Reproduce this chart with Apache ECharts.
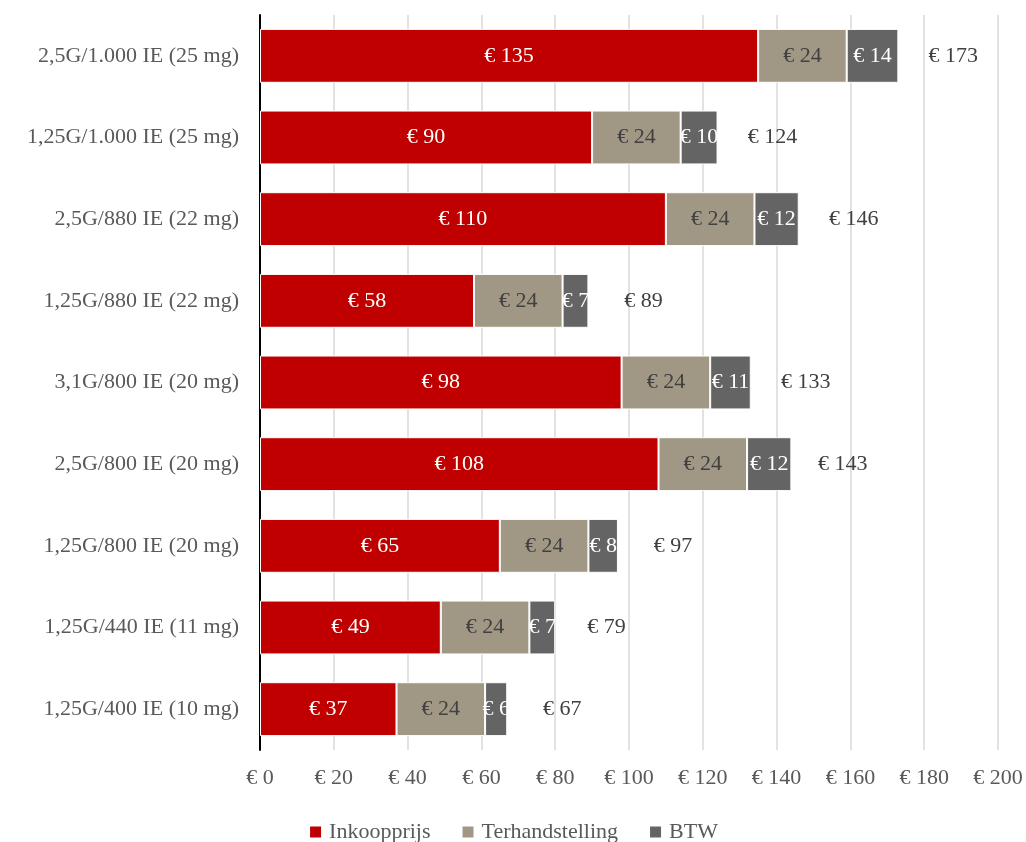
<!DOCTYPE html>
<html>
<head>
<meta charset="utf-8">
<script src="https://cdn.jsdelivr.net/npm/echarts@6/dist/echarts.min.js"></script>
<style>html,body{margin:0;padding:0;background:#fff;}#c{width:1026px;height:842px;}</style>
</head>
<body>
<div id="c"></div>
<script>
const categories = [
  "2,5G/1.000 IE (25 mg)",
  "1,25G/1.000 IE (25 mg)",
  "2,5G/880 IE (22 mg)",
  "1,25G/880 IE (22 mg)",
  "3,1G/800 IE (20 mg)",
  "2,5G/800 IE (20 mg)",
  "1,25G/800 IE (20 mg)",
  "1,25G/440 IE (11 mg)",
  "1,25G/400 IE (10 mg)"
];
const inkoopprijs = [135, 90, 110, 58, 98, 108, 65, 49, 37];
const terhandstelling = [24, 24, 24, 24, 24, 24, 24, 24, 24];
const btw = [14, 10, 12, 7, 11, 12, 8, 7, 6];
const totals = [173, 124, 146, 89, 133, 143, 97, 79, 67];

const FONT = "'Liberation Serif', 'DejaVu Serif', serif";
const FS = 22;
const chart = echarts.init(document.getElementById('c'), null, {renderer: 'canvas'});
const rev = a => a.slice().reverse();
const euro = p => '€ ' + p.value;
const border = {borderColor: '#ffffff', borderWidth: 1};

chart.setOption({
  animation: false,
  textStyle: {fontFamily: FONT},
  grid: {left: 260, right: 28, top: 15, bottom: 92, containLabel: false},
  xAxis: {
    type: 'value', min: 0, max: 200, interval: 20,
    axisLine: {show: false}, axisTick: {show: false},
    splitLine: {show: true, lineStyle: {color: '#d9d9d9', width: 1.5}},
    axisLabel: {color: '#595959', fontSize: FS, fontFamily: FONT, margin: 17, formatter: v => '€ ' + v}
  },
  yAxis: {
    type: 'category', data: rev(categories),
    axisLine: {show: true, lineStyle: {color: '#000000', width: 2}},
    axisTick: {show: false},
    axisLabel: {color: '#595959', fontSize: FS, fontFamily: FONT, margin: 21}
  },
  legend: {
    data: ['Inkoopprijs', 'Terhandstelling', 'BTW'],
    top: 816, left: 'center', icon: 'rect', itemWidth: 13, itemHeight: 13, itemGap: 30,
    textStyle: {color: '#595959', fontSize: FS, fontFamily: FONT, padding: [0, 0, 0, 2]}
  },
  series: [
    {name: 'Inkoopprijs', type: 'bar', stack: 's', data: rev(inkoopprijs), barCategoryGap: '34%',
     itemStyle: Object.assign({color: '#c00000'}, border),
     label: {show: true, position: 'inside', color: '#ffffff', fontSize: FS, fontFamily: FONT, formatter: euro}},
    {name: 'Terhandstelling', type: 'bar', stack: 's', data: rev(terhandstelling),
     itemStyle: Object.assign({color: '#a09885'}, border),
     label: {show: true, position: 'inside', color: '#404040', fontSize: FS, fontFamily: FONT, formatter: euro}},
    {name: 'BTW', type: 'bar', stack: 's', data: rev(btw),
     itemStyle: Object.assign({color: '#646464'}, border),
     label: {show: true, position: 'inside', color: '#ffffff', fontSize: FS, fontFamily: FONT, formatter: euro}},
    {name: 'Totaal', type: 'bar', data: rev(totals), barGap: '-100%', z: 1,
     itemStyle: {color: 'rgba(0,0,0,0)'}, silent: true,
     label: {show: true, position: 'right', distance: 55, align: 'center', color: '#404040', fontSize: FS, fontFamily: FONT, formatter: euro}}
  ]
});
</script>
</body>
</html>
